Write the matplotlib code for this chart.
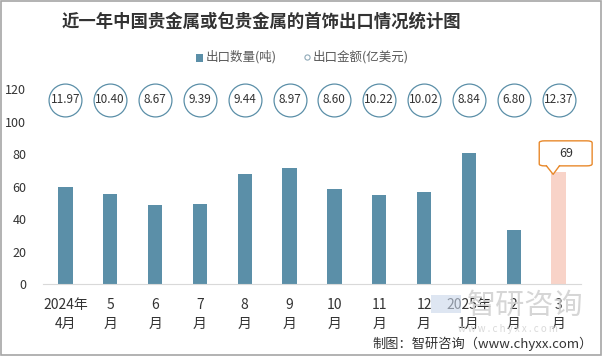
import matplotlib
matplotlib.use("Agg")
import matplotlib.pyplot as plt
from matplotlib.patches import Rectangle, FancyBboxPatch, Polygon

plt.rcParams['font.family'] = ['Noto Sans CJK SC', 'DejaVu Sans']

categories = ["2024年\n4月", "5\n月", "6\n月", "7\n月", "8\n月", "9\n月", "10\n月",
              "11\n月", "12\n月", "2025年\n1月", "2\n月", "3\n月"]
quantity = [60, 55.5, 48.7, 49.3, 67.8, 71.5, 58.5, 54.9, 56.7, 80.7, 33.3, 69]
amount = [11.97, 10.40, 8.67, 9.39, 9.44, 8.97, 8.60, 10.22, 10.02, 8.84, 6.80, 12.37]
yticks = [0, 20, 40, 60, 80, 100, 120]

fig = plt.figure(figsize=(6.02, 3.56), dpi=100)
ax = fig.add_axes([0.0714, 0.2022, 0.8936, 0.5478])

x = list(range(len(categories)))
colors = ["#5B8FA8"] * (len(x) - 1) + ["#F8D3C8"]
ax.bar(x, quantity, width=0.32, color=colors, zorder=2)

circle_y = 113.4
ax.scatter(x, [circle_y] * len(x), s=560, facecolors="white", edgecolors="#5B8FA8",
           linewidths=0.9, clip_on=False, zorder=3)
for xi, v in zip(x, amount):
    ax.text(xi, circle_y, f"{v:.2f}", ha="center", va="center", fontsize=8.5,
            color="#333333", zorder=4, clip_on=False)

# Callout for last bar
last = x[-1]
bw, bh = 1.18, 15.4
bx0, by0 = last - 0.43, quantity[-1] + 3.7
box = FancyBboxPatch((bx0, by0), bw, bh, boxstyle="round,pad=0,rounding_size=0.12",
                     mutation_aspect=10, fc="white", ec="#E8892B", lw=1, zorder=5, clip_on=False)
ax.add_patch(box)
nl, nr = last - 0.27, last + 0.02
tip = (last - 0.12, quantity[-1] - 1.5)
ax.add_patch(Polygon([(nl, by0 + 0.6), tip, (nr, by0 + 0.6)], closed=True, fc="white", ec="none",
                     zorder=6, clip_on=False))
ax.plot([nl, tip[0], nr], [by0, tip[1], by0], color="#E8892B", lw=1, zorder=7, clip_on=False)
ax.text(bx0 + bw / 2, by0 + bh / 2, f"{quantity[-1]:.0f}", ha="center", va="center",
        fontsize=9, color="#333333", zorder=8, clip_on=False)

ax.set_xlim(-0.5, len(x) - 0.5)
ax.set_ylim(0, 120)
ax.set_yticks(yticks)
ax.set_yticklabels([str(t) for t in yticks], fontsize=9, color="#333333")
ax.set_xticks(x)
ax.set_xticklabels(categories, fontsize=10, color="#333333", linespacing=1.5)
ax.tick_params(axis="x", length=0, pad=10)
ax.tick_params(axis="y", length=0, pad=12)
for s in ["top", "right", "left"]:
    ax.spines[s].set_visible(False)
ax.spines["bottom"].set_color("#D9D9D9")

# Title
fig.text(0.435, 0.938, "近一年中国贵金属或包贵金属的首饰出口情况统计图", ha="center", va="center",
         fontsize=12.5, fontweight="bold", color="#333333")

# Legend
legend_y = 0.84
fig.patches.append(Rectangle((0.326, legend_y - 0.013), 0.011, 0.022, transform=fig.transFigure,
                             facecolor="#5B8FA8", edgecolor="none"))
fig.text(0.342, legend_y, "出口数量(吨)", ha="left", va="center", fontsize=9, color="#595959")
ax.scatter([0.51], [legend_y], s=14, facecolors="white", edgecolors="#8FA9B8", linewidths=0.8,
           transform=fig.transFigure, clip_on=False)
fig.text(0.519, legend_y, "出口金额(亿美元)", ha="left", va="center", fontsize=9, color="#595959")

# Watermark
fig.patches.append(Rectangle((0.716, 0.12), 0.05, 0.05, transform=fig.transFigure,
                             facecolor="#C9D6EA", edgecolor="none", alpha=0.6))
fig.text(0.872, 0.14, "智研咨询", ha="center", va="center", fontsize=21, color="#CFCFCF", alpha=0.85)
fig.text(0.844, 0.076, "w w w . c h y x x . c o m", ha="center", va="center", fontsize=7,
         color="#D3D3D3", alpha=0.85)

# Source
fig.text(0.985, 0.035, "制图：智研咨询（www.chyxx.com）", ha="right", va="center", fontsize=9.5,
         color="#333333")

# Border
fig.patches.append(Rectangle((0.001, 0.002), 0.997, 0.995, transform=fig.transFigure,
                             facecolor="none", edgecolor="#A6A6A6", lw=1.2))

fig.savefig("out.png", dpi=100)
